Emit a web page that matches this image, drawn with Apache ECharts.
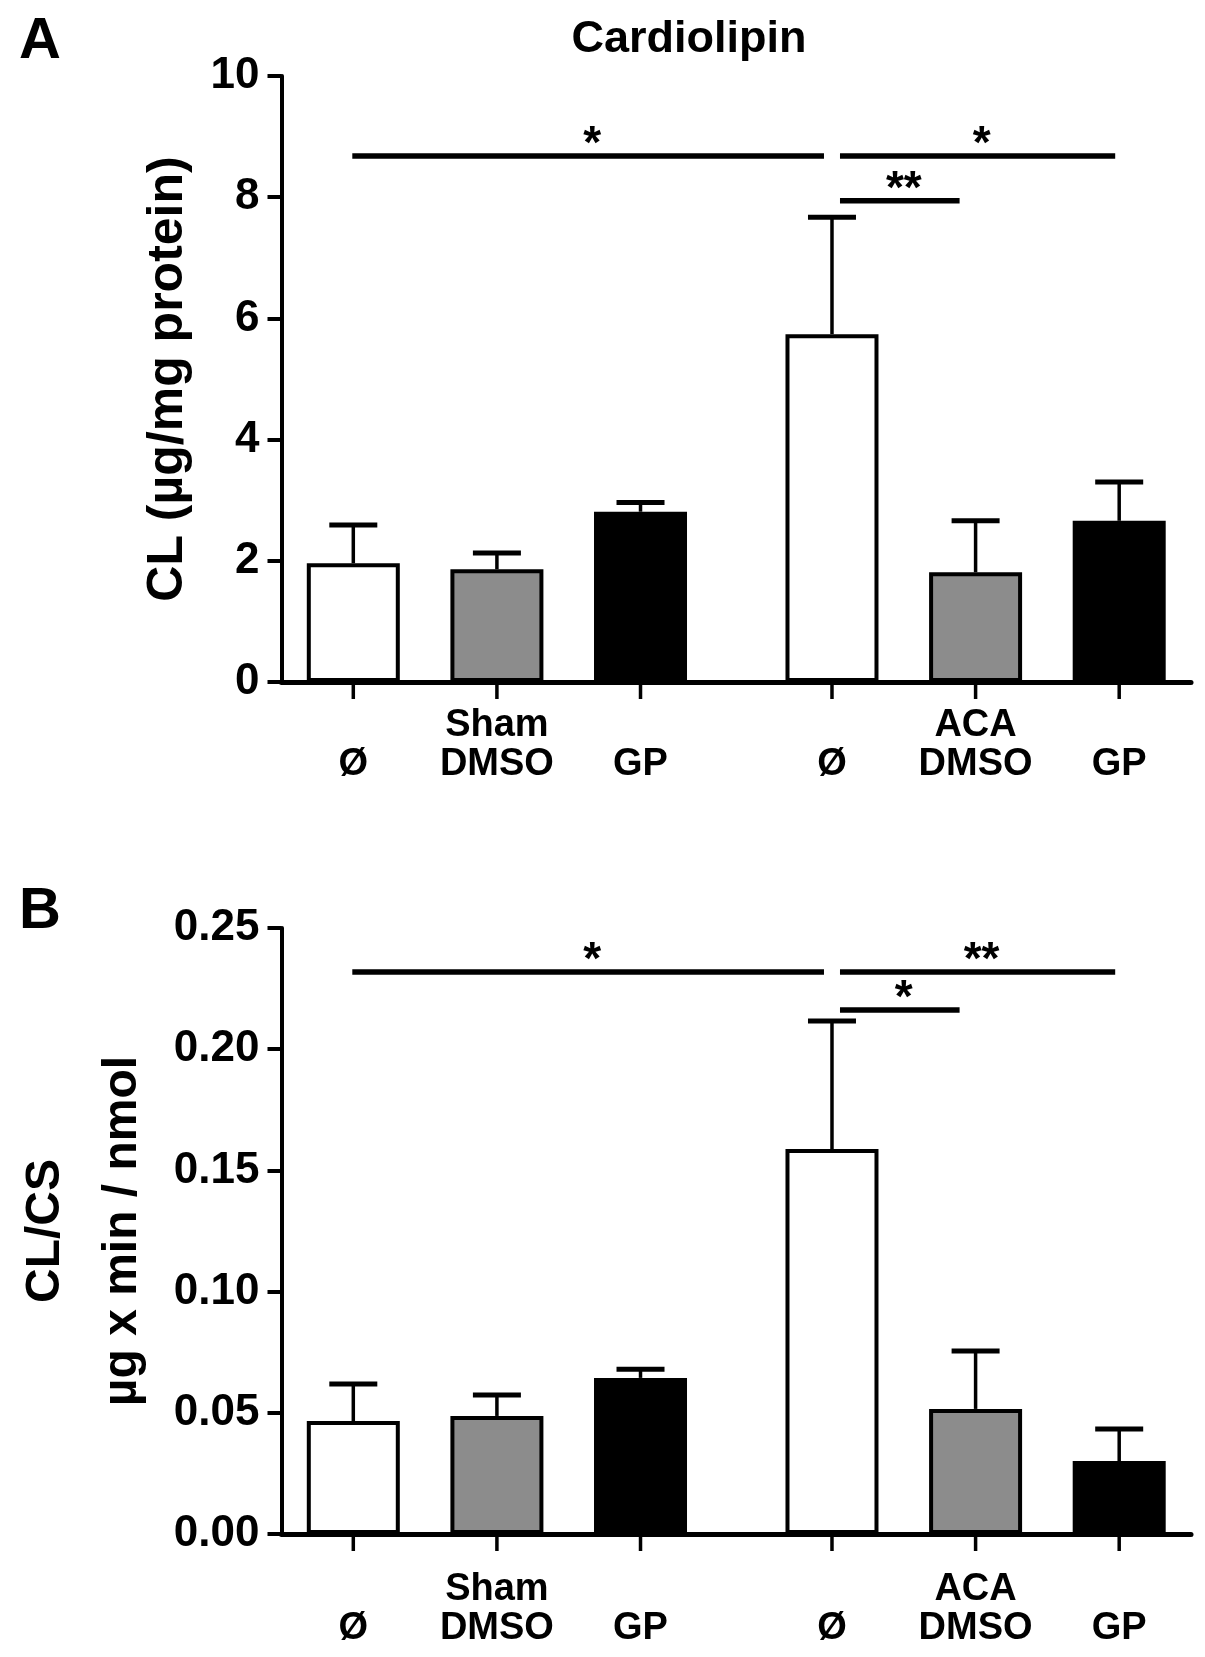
<!DOCTYPE html>
<html><head><meta charset="utf-8">
<script src="https://cdn.jsdelivr.net/npm/echarts@6/dist/echarts.min.js"></script>
<style>html,body{margin:0;padding:0;background:#fff}#c{width:1205px;height:1657px}</style>
</head><body><div id="c"></div>
<script>
// ---- data ----
const groups = ['Sham', 'ACA'];
const treatments = ['Ø', 'DMSO', 'GP'];
// Panel A: CL (µg/mg protein), order: Sham Ø, Sham DMSO, Sham GP, ACA Ø, ACA DMSO, ACA GP
const clMean = [1.96, 1.86, 2.81, 5.74, 1.81, 2.66];
const clSem  = [0.63, 0.27, 0.15, 1.93, 0.85, 0.64];
// Panel B: CL/CS (µg x min / nmol)
const csMean = [0.0466, 0.0487, 0.0644, 0.1588, 0.0516, 0.0301];
const csSem  = [0.0153, 0.0086, 0.0036, 0.0528, 0.0239, 0.0132];
// significance brackets: [from bar, to bar, level, label]
const sigA = [[0, 3, 8.68, '*'], [3, 5, 8.68, '*'], [3, 4, 7.94, '**']];
const sigB = [[0, 3, 0.2318, '*'], [3, 5, 0.2318, '**'], [3, 4, 0.2162, '*']];
const yTicksA = [0, 2, 4, 6, 8, 10];
const yTicksB = ['0.00', '0.05', '0.10', '0.15', '0.20', '0.25'];
const titleText = 'Cardiolipin';
const yNameA = 'CL (µg/mg protein)';
const yNameB = ['CL/CS', 'µg x min / nmol'];

// ---- layout / style ----
const FONT = "'Liberation Sans', Arial, sans-serif";
const fills = ['#ffffff', '#8c8c8c', '#000000'];
const SLOTS = 19;
function slotOf(g, t) { return 1 + g * 10 + t * 3; }
const barSlots = [];
groups.forEach((g, gi) => treatments.forEach((t, ti) => barSlots.push(slotOf(gi, ti))));
const xCats = new Array(SLOTS).fill('');
groups.forEach((g, gi) => treatments.forEach((t, ti) => {
  xCats[slotOf(gi, ti)] = ti === 1 ? g + '\n' + t : '\n' + t;
}));
// pixel insets for bracket ends [startInset, endInset]
const sigInsets = [[-1, -8], [8, -4], [8, -16]];

function barData(means) {
  const d = new Array(SLOTS).fill('-');
  means.forEach((m, i) => {
    d[barSlots[i]] = { value: m, itemStyle: { color: fills[i % 3] } };
  });
  return d;
}
function errData(means, sems) {
  return means.map((m, i) => [barSlots[i], m, m + sems[i]]);
}
function errRender(params, api) {
  const x = api.value(0);
  const base = api.coord([x, api.value(1)]);
  const top = api.coord([x, api.value(2)]);
  const zero = api.coord([x, 0]);
  const hw = 24;
  return { type: 'group', children: [
    { type: 'line', shape: { x1: base[0], y1: base[1], x2: top[0], y2: top[1] }, style: { stroke: '#000', lineWidth: 3.5 } },
    { type: 'line', shape: { x1: top[0] - hw, y1: top[1], x2: top[0] + hw, y2: top[1] }, style: { stroke: '#000', lineWidth: 5 } },
    // x-axis tick under the bar
    { type: 'line', shape: { x1: zero[0], y1: zero[1], x2: zero[0], y2: zero[1] + 17 }, style: { stroke: '#000', lineWidth: 3.5 } }
  ]};
}
function sigRender(sig) {
  return function (params, api) {
    const s = sig[params.dataIndex];
    const p1 = api.coord([barSlots[s[0]], s[2]]);
    const p2 = api.coord([barSlots[s[1]], s[2]]);
    const ins = sigInsets[params.dataIndex];
    const x1 = p1[0] + ins[0], x2 = p2[0] + ins[1];
    return { type: 'group', children: [
      { type: 'line', shape: { x1: x1, y1: p1[1], x2: x2, y2: p1[1] }, style: { stroke: '#000', lineWidth: 5.5 } },
      { type: 'text', style: { text: s[3], x: (x1 + x2) / 2 + 4, y: p1[1] + 12, align: 'center', verticalAlign: 'bottom',
        font: 'bold 46px ' + FONT, fill: '#000' } }
    ]};
  };
}

const grids = [
  { left: 281.5, right: 14, top: 76, height: 606, containLabel: false, outerBoundsMode: 'none' },
  { left: 281.5, right: 14, top: 928, height: 606, containLabel: false, outerBoundsMode: 'none' }
];
function xAxisFor(gi, margin) {
  return {
    type: 'category', gridIndex: gi, data: xCats,
    axisLine: { lineStyle: { color: '#000', width: 5 } },
    axisTick: { show: false },
    axisLabel: { interval: (i, v) => v !== '', margin: margin, color: '#000', fontSize: 38, fontWeight: 'bold',
      fontFamily: FONT, lineHeight: 39, align: 'center' }
  };
}
function yAxisFor(gi, max, step, ticks, name, nameGap, nameLH, nameSize) {
  return {
    type: 'value', gridIndex: gi, min: 0, max: max, interval: step,
    name: name, nameLocation: 'middle', nameRotate: 90, nameGap: nameGap,
    nameTextStyle: { color: '#000', fontSize: nameSize, fontWeight: 'bold', fontFamily: FONT, lineHeight: nameLH },
    splitLine: { show: false },
    axisLine: { show: true, lineStyle: { color: '#000', width: 4 } },
    axisTick: { show: true, length: 14, lineStyle: { color: '#000', width: 4 } },
    axisLabel: { margin: 22, color: '#000', fontSize: 44, fontWeight: 'bold', fontFamily: FONT,
      formatter: (v) => { const i = Math.round(v / step); return ticks[i] !== undefined ? String(ticks[i]) : ''; } }
  };
}

const chart = echarts.init(document.getElementById('c'), null, { renderer: 'canvas' });
chart.setOption({
  backgroundColor: '#fff',
  animation: false,
  title: [
    { text: titleText, left: 684, top: 12, textAlign: 'center',
      textStyle: { fontSize: 45, fontWeight: 'bold', fontFamily: FONT, color: '#000' } },
    { text: 'A', left: 14, top: 8, textStyle: { fontSize: 58, fontWeight: 'bold', fontFamily: FONT, color: '#000' } },
    { text: 'B', left: 14, top: 878, textStyle: { fontSize: 58, fontWeight: 'bold', fontFamily: FONT, color: '#000' } }
  ],
  grid: grids,
  xAxis: [xAxisFor(0, 24), xAxisFor(1, 36)],
  yAxis: [
    yAxisFor(0, 10, 2, yTicksA, yNameA, 86, 54, 50),
    yAxisFor(1, 0.25, 0.05, yTicksB, yNameB.join('\n'), 120, 77, 48)
  ],
  series: [
    { type: 'bar', xAxisIndex: 0, yAxisIndex: 0, barWidth: 93, data: barData(clMean),
      itemStyle: { borderColor: '#000', borderWidth: 4 } },
    { type: 'custom', xAxisIndex: 0, yAxisIndex: 0, data: errData(clMean, clSem), renderItem: errRender,
      encode: { x: 0, y: 2 }, clip: false, z: 5 },
    { type: 'custom', xAxisIndex: 0, yAxisIndex: 0, data: sigA.map(s => [barSlots[s[0]], s[2]]),
      renderItem: sigRender(sigA), encode: { x: 0, y: 1 }, clip: false, z: 6 },
    { type: 'bar', xAxisIndex: 1, yAxisIndex: 1, barWidth: 93, data: barData(csMean),
      itemStyle: { borderColor: '#000', borderWidth: 4 } },
    { type: 'custom', xAxisIndex: 1, yAxisIndex: 1, data: errData(csMean, csSem), renderItem: errRender,
      encode: { x: 0, y: 2 }, clip: false, z: 5 },
    { type: 'custom', xAxisIndex: 1, yAxisIndex: 1, data: sigB.map(s => [barSlots[s[0]], s[2]]),
      renderItem: sigRender(sigB), encode: { x: 0, y: 1 }, clip: false, z: 6 }
  ]
});
</script></body></html>
